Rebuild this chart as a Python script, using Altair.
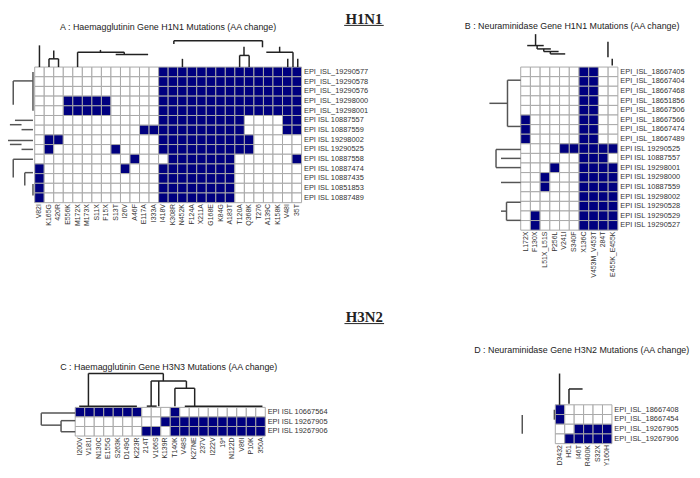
import altair as alt
import pandas as pd

NAVY = "#00007f"
GRID = "#a8a8a8"
FONT = "Liberation Sans"

# ---------------- Panel A : HA H1N1 ----------------
A_TITLE = "A : Haemagglutinin Gene H1N1 Mutations (AA change)"
A_ROWS = ["EPI_ISL_19290577", "EPI_ISL_19290578", "EPI_ISL_19290576", "EPI_ISL_19298000",
          "EPI_ISL_19298001", "EPI ISL 10887557", "EPI ISL 10887559", "EPI ISL 19298002",
          "EPI ISL 19290525", "EPI ISL 10887558", "EPI ISL 10887474", "EPI ISL 10887435",
          "EPI ISL 10851853", "EPI ISL 10887489"]
A_COLS = ["V82I", "K165G", "420R", "E556K", "M172X", "M173X", "S11X", "F15X", "S13T", "I26V",
          "A46F", "E117A", "I333A", "I418V", "K308R", "N452K", "F124A", "X211A", "G168E", "K84G",
          "A183T", "T120A", "Q368K", "T276", "A139C", "K158K", "V48I", "35T"]
A_CELLS = ["0000000000000111111111111111",
           "0000000000000111111111111111",
           "0000000000000111111111111111",
           "0001111100000111111111111111",
           "0001111100000111111111111111",
           "0000000000000111111111000011",
           "0000000000011111111111000011",
           "0110000000000111111111100000",
           "0100000010000111111111100000",
           "0000000000100011111110000001",
           "1000000001000111111110000000",
           "1000000000000111111110000000",
           "1000000000000111111110000000",
           "1000000000000111111110000000"]
A_COL_TREE = [(0.5, -2.24, 0.5, 0), (1.5, -0.85, 1.5, 0), (2.5, -0.85, 2.5, 0),
              (1.5, -0.85, 2.5, -0.85), (2.0, -1.7, 2.0, -0.85),
              (4.5, -1.53, 4.5, 0), (4.5, -1.53, 9.4, -1.53), (6.9, -1.77, 6.9, -1.53),
              (9.4, -1.53, 9.4, -1.3), (8.5, -1.3, 11.9, -1.3),
              (14.6, -2.72, 23.9, -2.72), (14.6, -2.72, 14.6, -2.37), (23.9, -2.72, 23.9, -2.04),
              (15.5, -0.85, 15.5, 0), (21.96, -2.1, 21.96, -1.2), (21.5, -1.2, 22.5, -1.2),
              (21.5, -1.2, 21.5, 0), (22.5, -1.2, 22.5, 0),
              (24.3, -1.53, 27.1, -1.53), (25.7, -2.1, 25.7, -1.53), (26.55, -0.85, 26.55, 0),
              (27.1, -1.53, 27.1, 0), (27.6, -0.85, 27.6, 0)]
A_ROW_TREE = [(-0.18, 0.5, -0.18, 4.5), (-2.25, 1.43, -0.18, 1.43), (-2.25, 1.43, -2.25, 3.9),
              (-3.45, 3.57, -3.45, 7.58), (-3.45, 7.58, -0.18, 7.58), (-2.07, 5.5, -0.18, 5.5),
              (-2.6, 5.95, -1.38, 5.95), (-1.38, 6.46, -0.18, 6.46), (-2.6, 7.99, -1.38, 7.99),
              (-1.38, 8.5, -0.18, 8.5), (-2.25, 9.52, -0.18, 9.52), (-2.25, 9.52, -2.25, 11.4),
              (-1.04, 10.9, -0.18, 10.9), (-1.04, 10.9, -1.04, 12.24), (-0.18, 12.07, -0.18, 13.27)]

# ---------------- Panel B : NA H1N1 ----------------
B_TITLE = "B : Neuraminidase Gene H1N1 Mutations (AA change)"
B_ROWS = ["EPI_ISL_18667405", "EPI_ISL_18667404", "EPI_ISL_18667468", "EPI_ISL_18651856",
          "EPI_ISL_18667506", "EPI_ISL_18667566", "EPI_ISL_18667474", "EPI_ISL_18667489",
          "EPI ISL 19290525", "EPI ISL 10887557", "EPI ISL 19298001", "EPI ISL 19298000",
          "EPI ISL 10887559", "EPI ISL 19298002", "EPI ISL 19290528", "EPI ISL 19290529",
          "EPI ISL 19290527"]
B_COLS = ["L172X", "F130X", "L51X_L51S", "P256L", "V241I", "S340F", "X136C", "V453M_V453T",
          "284T", "E455K_E455K"]
B_CELLS = ["0000001100", "0000001100", "0000001100", "0000001100", "0000001100",
           "1000001100", "1000001100", "1000001100",
           "0000111111", "0000001110", "0001001111", "0010001111", "0010001111",
           "0000001111", "0000001111", "0100001111", "0100001111"]
B_COL_TREE = [(1.53, -3.43, 1.53, -2.24), (0.67, -2.24, 2.37, -2.24), (1.69, -2.24, 1.69, -1.89),
              (1.69, -1.89, 3.1, -1.89), (2.37, -1.89, 2.37, -1.62), (2.37, -1.62, 3.9, -1.62),
              (3.05, -1.62, 3.05, -1.37), (3.05, -1.37, 4.58, -1.37),
              (8.98, -2.65, 8.98, -1.03), (9.42, -0.86, 9.42, -0.17)]
B_ROW_TREE = [(-1.36, 1.37, -1.36, 6.19), (-1.36, 1.37, 0, 1.37), (-1.36, 6.19, 0, 6.19),
              (-3.22, 3.78, -1.36, 3.78), (-2.54, 8.59, -2.54, 10.48), (-2.54, 8.59, 0, 8.59),
              (-2.03, 9.52, 0, 9.52), (-2.54, 10.48, 0, 10.48), (-2.03, 12.03, 0, 12.03),
              (-1.46, 14.09, -1.46, 15.98), (-1.46, 14.09, 0, 14.09), (-1.46, 15.98, 0, 15.98),
              (-2.03, 15.02, -1.46, 15.02)]

# ---------------- Panel C : HA H3N2 ----------------
C_TITLE = "C : Haemagglutinin Gene H3N3 Mutations (AA change)"
C_ROWS = ["EPI ISL 10667564", "EPI ISL 19267905", "EPI ISL 19267906"]
C_COLS = ["I200V", "V181I", "N130C", "E155G", "S263K", "D149G", "K223R", "214T", "V166S",
          "K139R", "T140K", "V48S", "K27NE", "237V", "I222V", "19*", "N122D", "V86I", "P10K", "350A"]
C_CELLS = ["11111110001000000000",
           "00000000011111111111",
           "00000001101111111111"]
C_COL_TREE = [(1.39, -3.55, 9.27, -3.55), (1.39, -3.55, 1.39, -0.13), (0.42, -0.13, 6.49, -0.13),
              (9.27, -3.55, 9.27, -2.75), (7.99, -2.75, 11.7, -2.75), (7.99, -2.75, 7.99, -0.13),
              (8.79, -2.75, 8.79, -0.13), (11.7, -2.75, 11.7, -2.0), (10.49, -2.0, 12.57, -2.0),
              (10.49, -2.0, 10.49, -0.13), (12.57, -2.0, 12.57, -0.13),
              (7.53, -0.13, 8.57, -0.13), (11.53, -0.13, 19.7, -0.13)]
C_ROW_TREE = [(-3.57, 0.6, 0, 0.6), (-3.57, 0.6, -3.57, 1.86), (-3.57, 1.86, -1.49, 1.86),
              (-1.49, 1.39, -1.49, 2.55), (-1.49, 1.39, 0, 1.39), (-1.49, 2.55, 0, 2.55)]

# ---------------- Panel D : NA H3N2 ----------------
D_TITLE = "D : Neuraminidase Gene H3N2 Mutations (AA change)"
D_ROWS = ["EPI_ISL_18667408", "EPI_ISL_18667454", "EPI_ISL_19267905", "EPI_ISL_19267906"]
D_COLS = ["D3432", "H51", "I46T", "R400K", "S32X", "Y160H"]
D_CELLS = ["100000", "100000", "001111", "011111"]
D_COL_TREE = [(0.45, -3.22, 0.45, 0), (1.45, -1.63, 2.89, -1.63), (1.45, -1.63, 1.45, -0.1)]
D_ROW_TREE = [(-3.5, 1.05, -3.5, 2.98), (-0.1, 0.51, -0.1, 1.53)]


def panel(rows, cols, cells, title, title_uv, col_tree, row_tree, xpx, ypx, header=None):
    nr, nc = len(rows), len(cols)
    xs = alt.Scale(domain=[0, nc], range=[xpx[0] - 8, xpx[1] - 8], nice=False, zero=False)
    ys = alt.Scale(domain=[0, nr], range=[ypx[0] - 8, ypx[1] - 8], nice=False, zero=False)

    cell_df = pd.DataFrame([{"r": r, "r2": r + 1, "c": c, "c2": c + 1, "v": int(ch)}
                            for r, s in enumerate(cells) for c, ch in enumerate(s)])
    rects = alt.Chart(cell_df).mark_rect(stroke=GRID, strokeWidth=1).encode(
        x=alt.X("c:Q", scale=xs, axis=None), x2="c2:Q",
        y=alt.Y("r:Q", scale=ys, axis=None), y2="r2:Q",
        color=alt.condition(alt.datum.v == 1, alt.value(NAVY), alt.value("white")))

    rl_df = pd.DataFrame({"label": rows, "r": [i + 0.5 for i in range(nr)], "c": [nc + 0.25] * nr})
    row_labels = alt.Chart(rl_df).mark_text(align="left", baseline="middle", fontSize=7.5,
                                            font=FONT, color="#333").encode(
        x=alt.X("c:Q", scale=xs, axis=None), y=alt.Y("r:Q", scale=ys, axis=None), text="label:N")

    cl_df = pd.DataFrame({"label": cols, "c": [i + 0.5 for i in range(nc)], "r": [nr + 0.15] * nc})
    col_labels = alt.Chart(cl_df).mark_text(align="right", baseline="middle", angle=270,
                                            fontSize=7, font=FONT, color="#333").encode(
        x=alt.X("c:Q", scale=xs, axis=None), y=alt.Y("r:Q", scale=ys, axis=None), text="label:N")

    t_df = pd.DataFrame({"label": [title], "c": [title_uv[0]], "r": [title_uv[1]]})
    title_m = alt.Chart(t_df).mark_text(align="center", baseline="middle", fontSize=9,
                                        font=FONT, color="#222").encode(
        x=alt.X("c:Q", scale=xs, axis=None), y=alt.Y("r:Q", scale=ys, axis=None), text="label:N")

    def tree(segs, color):
        df = pd.DataFrame(segs, columns=["u1", "v1", "u2", "v2"])
        return alt.Chart(df).mark_rule(color=color, strokeWidth=1.5).encode(
            x=alt.X("u1:Q", scale=xs, axis=None), x2="u2:Q",
            y=alt.Y("v1:Q", scale=ys, axis=None), y2="v2:Q")

    layers = [rects, row_labels, col_labels, title_m, tree(col_tree, "#222"), tree(row_tree, "#555")]

    if header is not None:
        text, u, v, uu1, uu2, vu = header
        h_df = pd.DataFrame({"label": [text], "c": [u], "r": [v]})
        layers.append(alt.Chart(h_df).mark_text(align="center", baseline="middle", fontSize=15,
                                                font="Liberation Serif", fontWeight="bold",
                                                color="#222").encode(
            x=alt.X("c:Q", scale=xs, axis=None), y=alt.Y("r:Q", scale=ys, axis=None),
            text="label:N"))
        u_df = pd.DataFrame({"u1": [uu1], "u2": [uu2], "v": [vu]})
        layers.append(alt.Chart(u_df).mark_rule(color="#222", strokeWidth=1).encode(
            x=alt.X("u1:Q", scale=xs, axis=None), x2="u2:Q",
            y=alt.Y("v:Q", scale=ys, axis=None)))
    return alt.layer(*layers)


pA = panel(A_ROWS, A_COLS, A_CELLS, A_TITLE, (14.0, -4.18), A_COL_TREE, A_ROW_TREE,
           (35, 305), (65, 202.2), header=("H1N1", 34.54, -5.0, 32.47, 36.62, -4.3))
pB = panel(B_ROWS, B_COLS, B_CELLS, B_TITLE, (5.29, -4.23), B_COL_TREE, B_ROW_TREE,
           (526.7, 625), (65, 230))
pC = panel(C_ROWS, C_COLS, C_CELLS, C_TITLE, (9.84, -4.17), C_COL_TREE, C_ROW_TREE,
           (76, 268.3), (409.3, 438.3), header=("H3N2", 30.42, -9.44, 28.33, 32.5, -8.77))
pD = panel(D_ROWS, D_COLS, D_CELLS, D_TITLE, (2.8, -5.67), D_COL_TREE, D_ROW_TREE,
           (561.7, 619), (406.7, 446))

chart = alt.layer(pA, pB, pC, pD).resolve_scale(x="independent", y="independent").properties(
    width=692, height=470, padding=0, autosize=alt.AutoSizeParams(type="none"),
    background="white").configure_view(stroke=None)

chart.save("out.html", embed_options={"renderer": "svg", "actions": False})
